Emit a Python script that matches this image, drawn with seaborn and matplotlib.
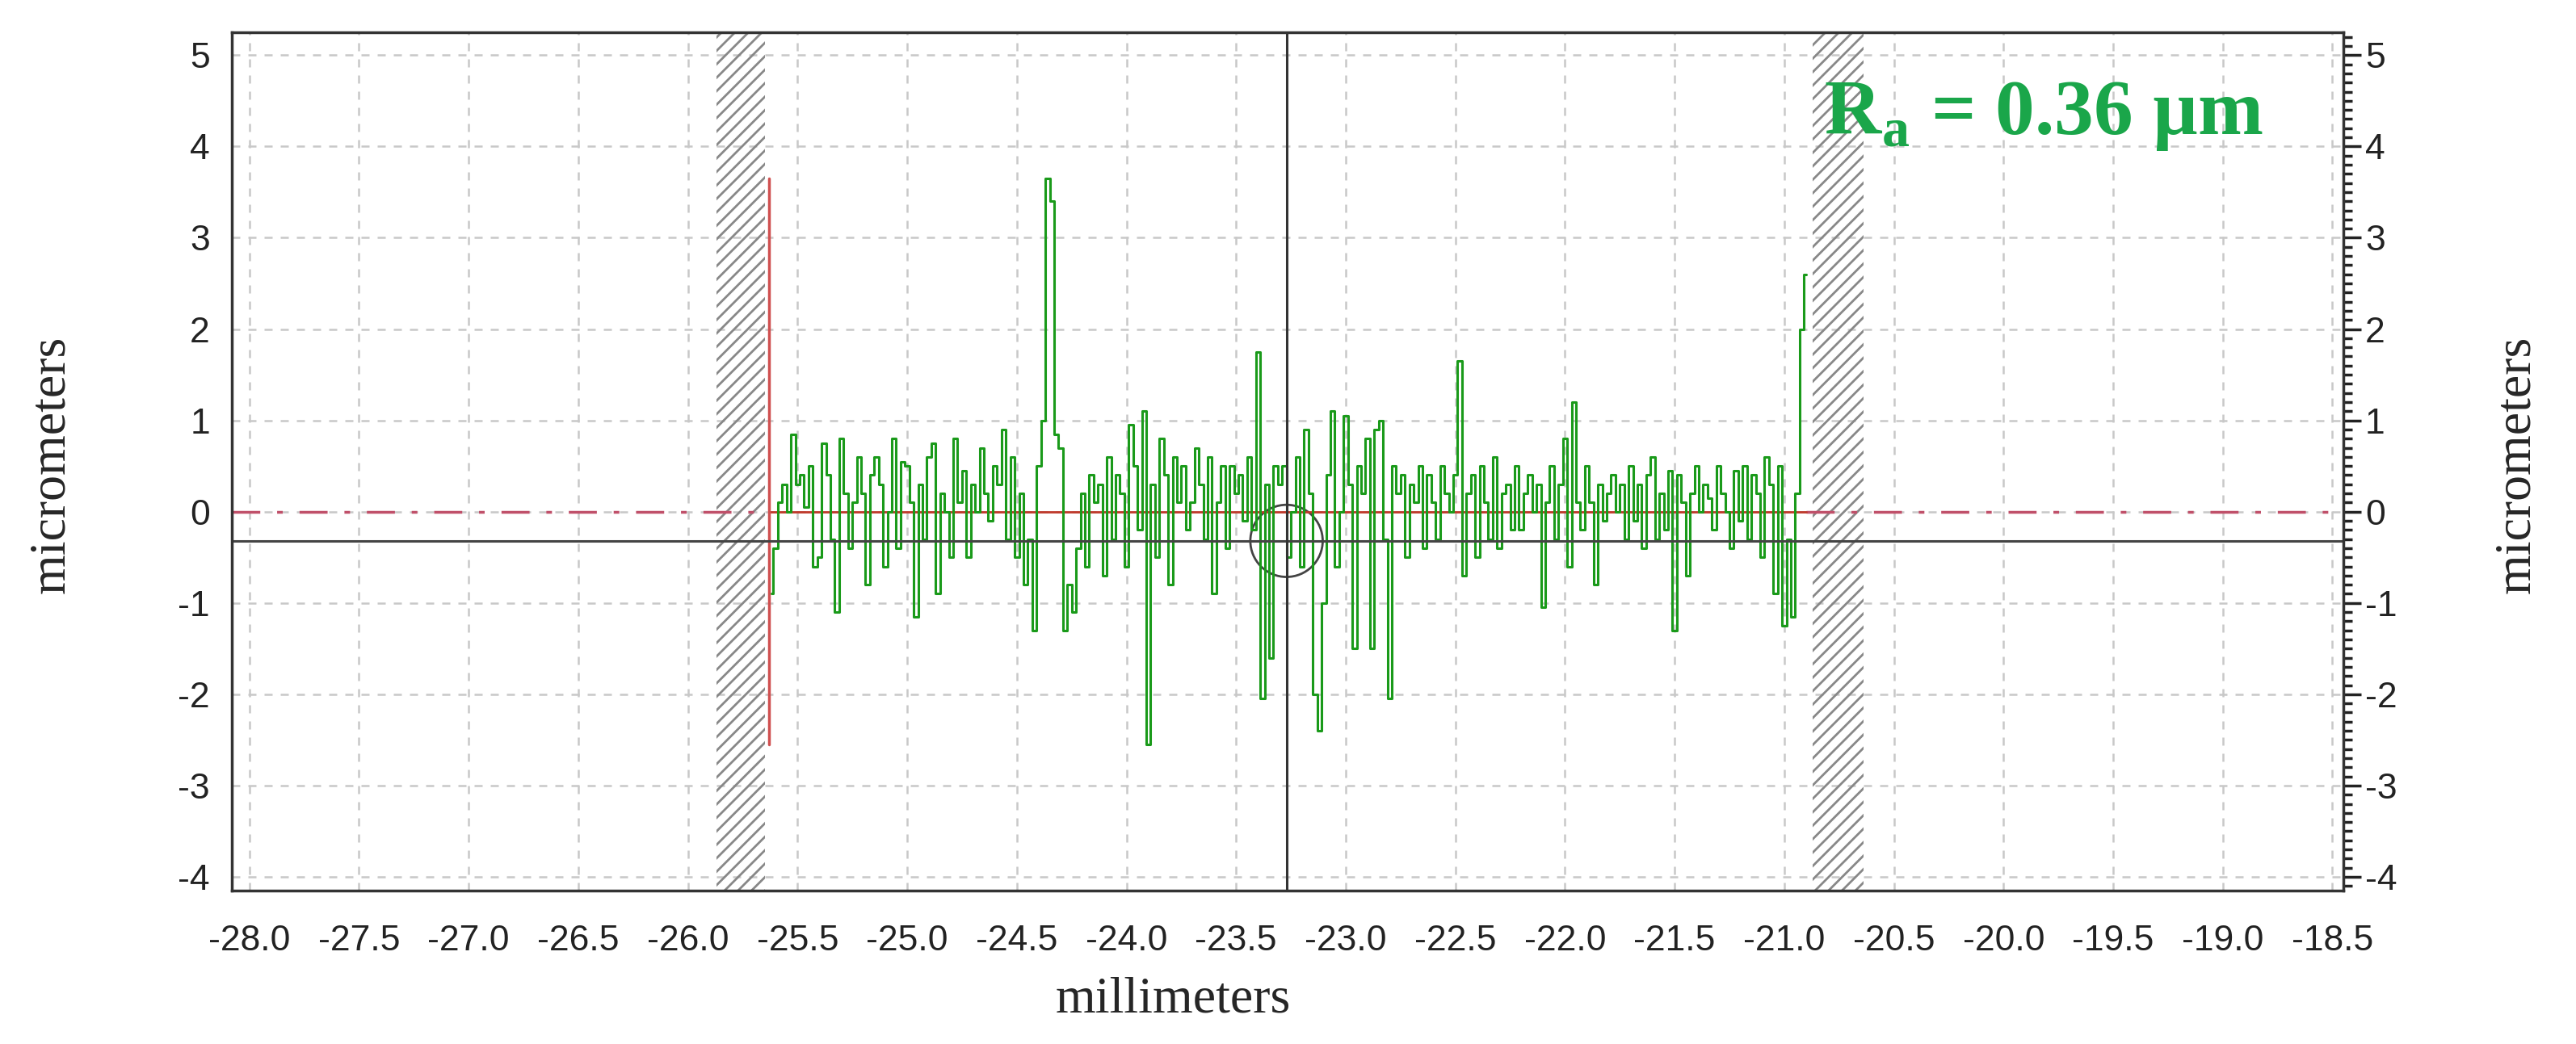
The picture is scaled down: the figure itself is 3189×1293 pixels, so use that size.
import numpy as np
import pandas as pd
import matplotlib
matplotlib.use("Agg")
import matplotlib.pyplot as plt
from matplotlib.patches import Ellipse
from matplotlib.ticker import MultipleLocator, FormatStrFormatter
import seaborn as sns

sns.set_style("white")
plt.rcParams['font.family'] = ['Liberation Sans', 'DejaVu Sans']
plt.rcParams['axes.unicode_minus'] = False
plt.rcParams['hatch.linewidth'] = 2.0
plt.rcParams['hatch.color'] = '#888888'

# profile heights (micrometers), sampled every 0.02 mm starting at -25.62 mm
seg_a = [-0.9, -0.4, 0.1, 0.3, 0.0, 0.85, 0.3, 0.4, 0.05, 0.5, -0.6, -0.5, 0.75, 0.4, -0.3, -1.1, 0.8, 0.2, -0.4, 0.1, 0.6, 0.2, -0.8, 0.4, 0.6]
seg_b = [0.3, -0.6, 0.0, 0.8, -0.4, 0.55, 0.5, 0.1, -1.15, 0.3, -0.3, 0.6, 0.75, -0.9, 0.2, 0.0, -0.5, 0.8, 0.1, 0.45, -0.5, 0.3, 0.0, 0.7, 0.2]
seg_c = [-0.1, 0.5, 0.3, 0.9, -0.3, 0.6, -0.5, 0.2, -0.8, -0.3, -1.3, 0.5, 1.0, 3.65, 3.4, 0.85, 0.7, -1.3, -0.8, -1.1, -0.4, 0.2, -0.6, 0.4, 0.1]
seg_d = [0.3, -0.7, 0.6, -0.3, 0.4, 0.2, -0.6, 0.95, 0.5, -0.2, 1.1, -2.55, 0.3, -0.5, 0.8, 0.4, -0.8, 0.6, 0.1, 0.5, -0.2, 0.1, 0.7, 0.3, -0.3]
seg_e = [0.6, -0.9, 0.1, 0.5, -0.4, 0.5, 0.2, 0.4, -0.1, 0.6, -0.2, 1.75, -2.05, 0.3, -1.6, 0.5, 0.3, 0.5, -0.5, 0.0, 0.6, -0.6, 0.9, 0.2, -2.0]
seg_f = [-2.4, -1.0, 0.4, 1.1, -0.6, 0.0, 1.05, 0.3, -1.5, 0.5, 0.2, 0.8, -1.5, 0.9, 1.0, -0.3, -2.05, 0.5, 0.2, 0.4, -0.5, 0.3, 0.1, 0.5, -0.4]
seg_g = [0.4, 0.1, -0.3, 0.5, 0.2, 0.0, 0.4, 1.65, -0.7, 0.2, 0.4, -0.5, 0.5, 0.1, -0.3, 0.6, -0.4, 0.2, 0.3, -0.2, 0.5, -0.2, 0.2, 0.4, 0.0]
seg_h = [0.3, -1.05, 0.1, 0.5, -0.3, 0.3, 0.8, -0.6, 1.2, 0.1, -0.2, 0.5, 0.1, -0.8, 0.3, -0.1, 0.2, 0.4, 0.0, 0.3, -0.3, 0.5, -0.1, 0.3, -0.4]
seg_i = [0.4, 0.6, -0.3, 0.2, -0.2, 0.45, -1.3, 0.4, 0.1, -0.7, 0.2, 0.5, 0.0, 0.3, 0.15, -0.2, 0.5, 0.2, 0.0, -0.4, 0.45, -0.1, 0.5, -0.3, 0.4]
seg_j = [0.2, -0.5, 0.6, 0.3, -0.9, 0.5, -1.25, -0.3, -1.15, 0.2, 2.0, 2.6]
heights = seg_a + seg_b + seg_c + seg_d + seg_e + seg_f + seg_g + seg_h + seg_i + seg_j
x_start, x_step = -25.62, 0.02

# reference/cursor values
data_start, data_end = -25.63, -20.90
red_bar = (-2.55, 3.65)
hatch_left = (-25.87, -25.65)
hatch_right = (-20.87, -20.64)
cursor_x, cursor_y = -23.27, -0.32
ra_text = "0.36"

df = pd.DataFrame({"mm": x_start + x_step * np.arange(len(heights)), "um": heights})

fig = plt.figure(figsize=(31.89, 12.93), dpi=100)
ax = fig.add_axes([0.090, 0.147, 0.8197, 0.822])
ax.set_xlim(-28.08, -18.45)
ax.set_ylim(-4.15, 5.25)

ax.grid(True, which='major', color='#c8c8c8', linestyle=(0, (4, 4)), linewidth=1.8)
ax.set_axisbelow(True)

for lo, hi in (hatch_left, hatch_right):
    ax.axvspan(lo, hi, facecolor='none', edgecolor='#888888', hatch='//', linewidth=0)

red = '#c0506a'
ax.plot([-28.08, data_start], [0, 0], color=red, linestyle='-.', dashes=(10, 6, 2, 6), linewidth=2.5)
ax.plot([data_end, -18.45], [0, 0], color=red, linestyle='-.', dashes=(10, 6, 2, 6), linewidth=2.5)
ax.plot([data_start, data_end], [0, 0], color='#c0392b', linewidth=2)

sns.lineplot(data=df, x="mm", y="um", ax=ax, color='#1a9a1a', linewidth=2.2,
             drawstyle='steps-mid', estimator=None)
ax.plot([data_start, data_start], red_bar, color='#d05050', linewidth=2.5)

ax.axhline(cursor_y, color='#444444', linewidth=2.2)
ax.axvline(cursor_x, color='#333333', linewidth=2.2)
ax.add_patch(Ellipse((cursor_x, cursor_y), 0.33, 0.79, fill=False, edgecolor='#444444', linewidth=2))

ax.xaxis.set_major_locator(MultipleLocator(0.5))
ax.xaxis.set_minor_locator(MultipleLocator(0.1))
ax.xaxis.set_major_formatter(FormatStrFormatter('%.1f'))
ax.yaxis.set_major_locator(MultipleLocator(1))
ax.yaxis.set_minor_locator(MultipleLocator(0.1))
ax.tick_params(axis='both', which='major', direction='out', length=16, width=2.5, labelsize=32, colors='#222222')
ax.tick_params(axis='both', which='minor', direction='out', length=8, width=2.5, colors='#222222')
ax.tick_params(axis='y', which='both', right=True, labelright=True)
ax.tick_params(axis='x', pad=14)
for s in ax.spines.values():
    s.set_linewidth(2.5)
    s.set_color('#333333')
ax.set_xlabel("")
ax.set_ylabel("")

serif = ['Liberation Serif', 'DejaVu Serif']
fig.text(0.4555, 0.02, "millimeters", family=serif, fontsize=46, ha='center', va='bottom')
fig.text(0.02, 0.555, "micrometers", family=serif, fontsize=46, rotation=90, ha='center', va='center')
fig.text(0.977, 0.555, "micrometers", family=serif, fontsize=46, rotation=90, ha='center', va='center')
ax.text(0.962, 0.945, r"R$_{\mathregular{a}}$ = " + ra_text + " µm", transform=ax.transAxes,
        family=serif, fontsize=70, fontweight='bold', color='#1aa64a', ha='right', va='top')

fig.savefig("out.png", dpi=100, facecolor='white')
